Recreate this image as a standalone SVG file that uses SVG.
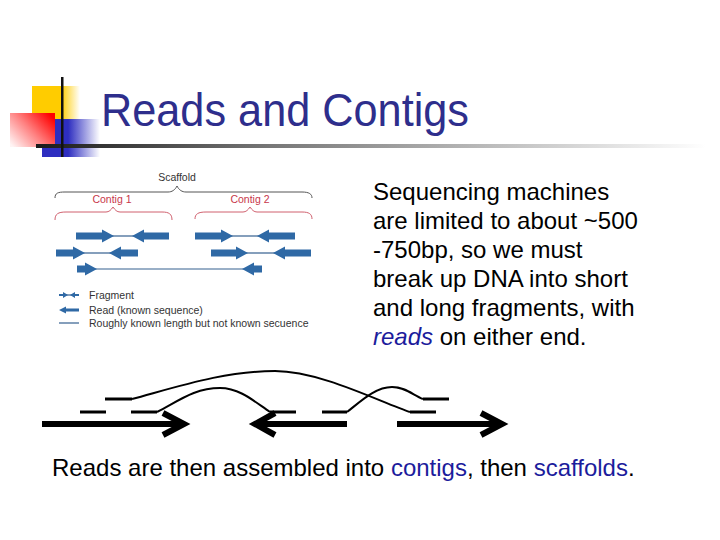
<svg xmlns="http://www.w3.org/2000/svg" width="720" height="540" viewBox="0 0 720 540">
<defs>
  <linearGradient id="gYellow" x1="0" y1="0" x2="1" y2="0">
    <stop offset="0" stop-color="#FFCC00"/>
    <stop offset="0.6" stop-color="#FFCC00"/>
    <stop offset="1" stop-color="#FFFFFF"/>
  </linearGradient>
  <linearGradient id="gRed" x1="1" y1="0.2" x2="0" y2="0.9">
    <stop offset="0" stop-color="#FF0000"/>
    <stop offset="0.5" stop-color="#FF8080"/>
    <stop offset="1" stop-color="#FFF4F4"/>
  </linearGradient>
  <linearGradient id="gBlue" x1="0" y1="0" x2="1" y2="0">
    <stop offset="0" stop-color="#2E2EC0"/>
    <stop offset="0.45" stop-color="#2E2EC0"/>
    <stop offset="1" stop-color="#FFFFFF"/>
  </linearGradient>
  <linearGradient id="gLine" x1="0" y1="0" x2="1" y2="0">
    <stop offset="0" stop-color="#1A1A1A"/>
    <stop offset="0.35" stop-color="#777777"/>
    <stop offset="1" stop-color="#FFFFFF"/>
  </linearGradient>
</defs>
<style>
  .title { font-family: "Liberation Sans", Arial, sans-serif; font-size: 46px; fill: #2E2E8C; }
  .body { font-family: "Liberation Sans", Arial, sans-serif; font-size: 24px; fill: #000; }
  .blue { fill: #1C1C9C; }
  .small { font-family: "Liberation Sans", Arial, sans-serif; font-size: 10.5px; fill: #333; }
  .ctg { font-family: "Liberation Sans", Arial, sans-serif; font-size: 10.5px; fill: #C8374A; }
  .read { fill: #2F69A5; }
  .thin { stroke: #34608F; stroke-width: 1.2; fill: none; }
  .brace { fill: none; stroke: #555; stroke-width: 1; }
  .cbrace { fill: none; stroke: #D0606E; stroke-width: 1; }
  .dash { stroke: #000; stroke-width: 3; fill: none; }
  .curve { stroke: #000; stroke-width: 2; fill: none; }
  .big { stroke: #000; stroke-width: 6; fill: none; }
</style>
<rect width="720" height="540" fill="#FFFFFF"/>

<g id="logo">
  <rect x="32" y="86" width="48" height="33" fill="url(#gYellow)"/>
  <rect x="42" y="119" width="58" height="38" fill="url(#gBlue)"/>
  <rect x="10" y="113" width="45" height="34" fill="url(#gRed)"/>
  <rect x="36" y="144" width="670" height="4" fill="url(#gLine)"/>
  <rect x="61" y="77" width="2.5" height="80" fill="#111"/>
</g>

<g id="title">
  <text class="title" x="101" y="126" textLength="368" lengthAdjust="spacingAndGlyphs">Reads and Contigs</text>
</g>

<g id="scaffold-figure">
  <text class="small" x="177" y="181" text-anchor="middle">Scaffold</text>
  <path class="brace" d="M55,198 C55,193 58,192 65,192 L168,192 C172,192 175,190 177,186 C179,190 182,192 186,192 L302,192 C309,192 312,194 312,198"/>
  <text class="ctg" x="112" y="203" text-anchor="middle">Contig 1</text>
  <path class="cbrace" d="M55,220 C55,214 58,212 66,212 L106,212 C109,212 111,210 113,207 C115,210 117,212 120,212 L162,212 C169,212 172,214 172,220"/>
  <text class="ctg" x="250" y="203" text-anchor="middle">Contig 2</text>
  <path class="cbrace" d="M195,219 C195,214 198,212 206,212 L243,212 C246,212 248,210 250,207 C252,210 254,212 257,212 L302,212 C309,212 312,214 312,219"/>

  <!-- row 1 -->
  <line class="thin" x1="112" y1="236" x2="134" y2="236"/>
  <polygon class="read" points="76,232.5 102,232.5 102,229.5 114,236 102,242.5 102,239.5 76,239.5"/>
  <polygon class="read" points="169,232.5 144,232.5 144,229.5 132,236 144,242.5 144,239.5 169,239.5"/>
  <line class="thin" x1="231" y1="236" x2="259" y2="236"/>
  <polygon class="read" points="195,232.5 221,232.5 221,229.5 233,236 221,242.5 221,239.5 195,239.5"/>
  <polygon class="read" points="295,232.5 269,232.5 269,229.5 257,236 269,242.5 269,239.5 295,239.5"/>
  <!-- row 2 -->
  <line class="thin" x1="83" y1="253" x2="111" y2="253"/>
  <polygon class="read" points="56,249.5 73,249.5 73,246.5 85,253 73,259.5 73,256.5 56,256.5"/>
  <polygon class="read" points="138,249.5 121,249.5 121,246.5 109,253 121,259.5 121,256.5 138,256.5"/>
  <line class="thin" x1="246" y1="253" x2="275" y2="253"/>
  <polygon class="read" points="211,249.5 236,249.5 236,246.5 248,253 236,259.5 236,256.5 211,256.5"/>
  <polygon class="read" points="311,249.5 285,249.5 285,246.5 273,253 285,259.5 285,256.5 311,256.5"/>
  <!-- row 3 -->
  <line class="thin" x1="94" y1="269" x2="245" y2="269"/>
  <polygon class="read" points="77,265.5 85,265.5 85,262.5 97,269 85,275.5 85,272.5 77,272.5"/>
  <polygon class="read" points="262,265.5 254,265.5 254,262.5 242,269 254,275.5 254,272.5 262,272.5"/>

  <!-- legend -->
  <line class="thin" x1="59" y1="295" x2="79" y2="295"/>
  <polygon class="read" points="59,294 63,294 63,292 68,295 63,298 63,296 59,296"/>
  <polygon class="read" points="79,294 75,294 75,292 70,295 75,298 75,296 79,296"/>
  <text class="small" x="89" y="299">Fragment</text>
  <polygon class="read" points="79,308.5 66,308.5 66,306.5 59,310 66,313.5 66,311.5 79,311.5"/>
  <text class="small" x="89" y="313.5">Read (known sequence)</text>
  <line x1="59" y1="323" x2="79" y2="323" stroke="#34608F" stroke-width="1.2"/>
  <text class="small" x="89" y="327">Roughly known length but not known secuence</text>
</g>

<g id="description">
  <text class="body" x="373" y="200">Sequencing machines</text>
  <text class="body" x="373" y="229">are limited to about ~500</text>
  <text class="body" x="373" y="258">-750bp, so we must</text>
  <text class="body" x="373" y="287">break up DNA into short</text>
  <text class="body" x="373" y="316">and long fragments, with</text>
  <text class="body" x="373" y="345"><tspan class="blue" font-style="italic">reads</tspan> on either end.</text>
</g>

<g id="connectors">
  <!-- big arrows (contigs) -->
  <line class="big" x1="42" y1="424" x2="183" y2="424"/>
  <polyline class="big" points="163,413 184,424 163,435" stroke-linejoin="miter"/>
  <line class="big" x1="257" y1="424" x2="347" y2="424"/>
  <polyline class="big" points="275,413 255,424 275,435" stroke-linejoin="miter"/>
  <line class="big" x1="397" y1="424" x2="500" y2="424"/>
  <polyline class="big" points="481,413 502,424 481,435" stroke-linejoin="miter"/>
  <!-- read dashes -->
  <line class="dash" x1="80" y1="412" x2="106" y2="412"/>
  <line class="dash" x1="131" y1="412" x2="157" y2="412"/>
  <line class="dash" x1="270" y1="412" x2="296" y2="412"/>
  <line class="dash" x1="322" y1="412" x2="347" y2="412"/>
  <line class="dash" x1="410" y1="412" x2="436" y2="412"/>
  <line class="dash" x1="105" y1="399" x2="132" y2="399"/>
  <line class="dash" x1="423" y1="399" x2="449" y2="399"/>
  <!-- mate-pair links -->
  <path class="curve" d="M132,399 C180,386 225,371 275,371 C320,371 380,402 410,412"/>
  <path class="curve" d="M157,412 C180,400 195,388 220,388 C240,388 255,402 270,412"/>
  <path class="curve" d="M347,412 C360,402 375,387 392,387 C405,387 413,395 423,399"/>
</g>

<g id="caption">
  <text class="body" x="52" y="476">Reads are then assembled into <tspan class="blue">contigs</tspan>, then <tspan class="blue">scaffolds</tspan>.</text>
</g>
</svg>
